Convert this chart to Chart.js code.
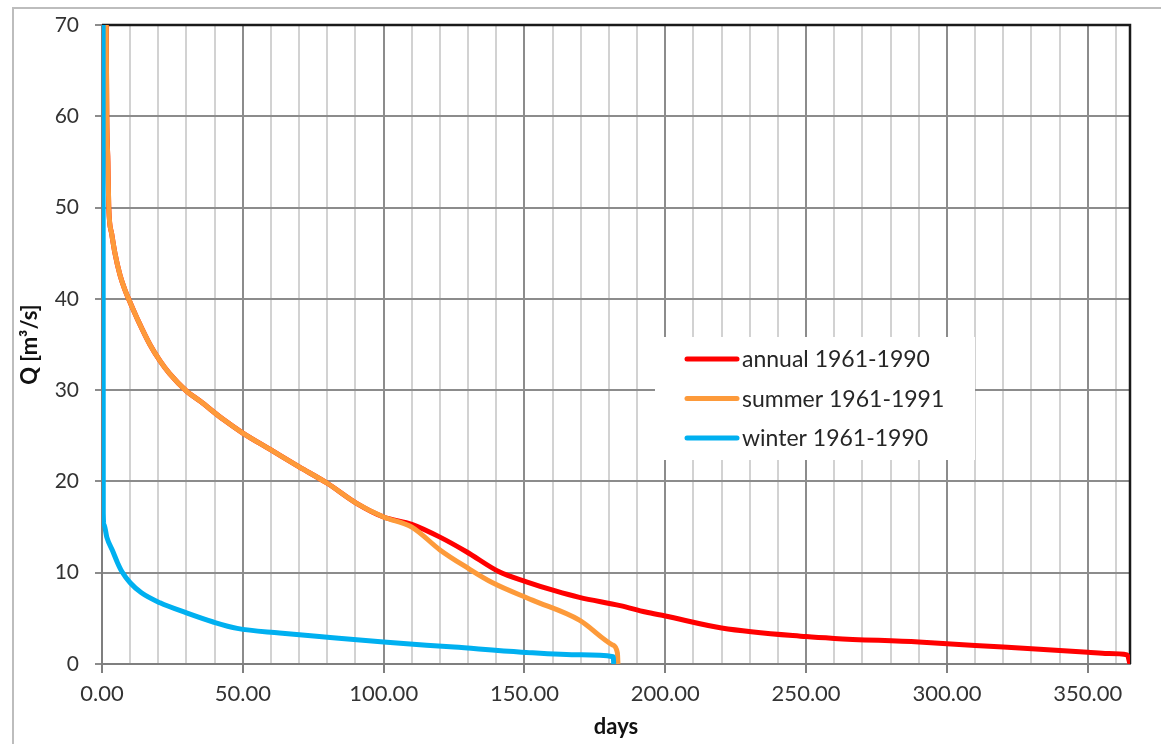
<!DOCTYPE html>
<html lang="en">
<head>
    <meta charset="UTF-8">
    <title>Flow duration curves</title>
    <script src="https://cdn.jsdelivr.net/npm/chart.js"></script>
    <style>
        html, body { margin: 0; padding: 0; background: #fff; }
    </style>
</head>
<body>
    <canvas id="durationChart" width="1161" height="744"></canvas>

    <script>
        // annual 1961-1990 (days exceeded, Q in m3/s)
        const annualDays = [1.5, 1.7, 2.1, 2.4, 3.4, 4.6, 6.4, 8, 10, 13, 17, 20.6, 24, 30, 34.8, 43, 50, 60, 70, 80, 90.4, 100,
                            110, 120, 129.4, 141, 150.7, 161, 169.5, 184, 193, 200, 220, 250, 260, 290, 320, 350, 357, 364, 365];
        const annualQ    = [70, 60, 55, 50, 47.2, 45, 42.6, 41.1, 39.6, 37.5, 35.0, 33.2, 31.8, 29.9, 28.8, 26.8, 25.3, 23.45, 21.6, 19.8, 17.6, 16.1,
                            15.3, 13.9, 12.3, 10.1, 9.0, 8.0, 7.3, 6.4, 5.7, 5.26, 3.95, 3.0, 2.8, 2.4, 1.85, 1.3, 1.15, 1.0, 0];

        // summer 1961-1991
        const summerDays = [1.5, 1.7, 2.1, 2.4, 3.4, 4.6, 6.4, 8, 10, 13, 17, 20.6, 24, 30, 34.8, 43, 50, 60, 70, 80, 90.4, 100,
                            110, 120, 129.4, 138.7, 152.8, 169.5, 181.2, 183, 183.2];
        const summerQ    = [70, 60, 55, 50, 47.2, 45, 42.6, 41.1, 39.6, 37.5, 35.0, 33.2, 31.8, 29.9, 28.8, 26.8, 25.3, 23.45, 21.6, 19.8, 17.6, 16.1,
                            15.0, 12.5, 10.6, 8.9, 7.0, 4.8, 2.1, 1.2, 0];

        // winter 1961-1990
        const winterDays = [0.4, 0.42, 0.45, 0.7, 1.7, 3.9, 5.5, 7.1, 10, 14, 20.6, 30, 39.5, 48, 63, 81, 100, 125, 149, 170, 181.5, 181.7];
        const winterQ    = [70, 40, 16.5, 15.3, 13.9, 12.3, 11.1, 10.1, 8.9, 7.8, 6.7, 5.6, 4.6, 3.9, 3.4, 2.9, 2.4, 1.85, 1.3, 1.0, 0.8, 0];

        const seriesLabels = ['annual 1961-1990', 'summer 1961-1991', 'winter 1961-1990'];
        const seriesColors = ['#ff0000', '#fd9a3a', '#00b0f0'];

        const xGridDays = [0, 10, 20, 30, 40, 50, 60, 70, 80, 90, 100, 110, 120, 130, 140, 150, 160, 170, 180,
                           190, 200, 210, 220, 230, 240, 250, 260, 270, 280, 290, 300, 310, 320, 330, 340, 350, 360];
        const xTickLabels = [0, 50, 100, 150, 200, 250, 300, 350];
        const yTickValues = [0, 10, 20, 30, 40, 50, 60, 70];

        const FONT = 'Lato, "Open Sans", sans-serif';

        const toPoints = (xs, ys) => xs.map((x, i) => ({ x: x, y: ys[i] }));

        // grey frame around the whole chart plus black top/right plot border
        const framePlugin = {
            id: 'frame',
            beforeDraw(chart) {
                const c = chart.ctx;
                c.save();
                c.fillStyle = '#ffffff';
                c.fillRect(0, 0, chart.width, chart.height);
                c.strokeStyle = '#bdbdbd';
                c.lineWidth = 2;
                c.strokeRect(13, 8, chart.width + 20, chart.height + 20);
                c.restore();
            },
            beforeDatasetsDraw(chart) {
                const a = chart.chartArea;
                const c = chart.ctx;
                c.save();
                c.strokeStyle = '#1a1a1a';
                c.lineWidth = 2.5;
                c.beginPath();
                c.moveTo(a.left, a.top);
                c.lineTo(a.right, a.top);
                c.lineTo(a.right, a.bottom);
                c.stroke();
                c.restore();
            }
        };

        // legend box inside the plot area
        const boxLegend = {
            id: 'boxLegend',
            afterDatasetsDraw(chart) {
                const c = chart.ctx;
                c.save();
                c.fillStyle = '#ffffff';
                c.fillRect(655, 337, 320, 123);
                c.font = '23px ' + FONT;
                c.textBaseline = 'middle';
                chart.data.datasets.forEach((ds, i) => {
                    const y = 359 + i * 39.5;
                    c.strokeStyle = ds.borderColor;
                    c.lineWidth = 5;
                    c.lineCap = 'round';
                    c.beginPath();
                    c.moveTo(687, y);
                    c.lineTo(737, y);
                    c.stroke();
                    c.fillStyle = '#262626';
                    c.fillText(ds.label, 742, y + 1);
                });
                c.restore();
            }
        };

        new Chart(document.getElementById('durationChart'), {
            type: 'line',
            data: {
                datasets: [
                    { label: seriesLabels[0], data: toPoints(annualDays, annualQ), borderColor: seriesColors[0], order: 2 },
                    { label: seriesLabels[1], data: toPoints(summerDays, summerQ), borderColor: seriesColors[1], order: 1 },
                    { label: seriesLabels[2], data: toPoints(winterDays, winterQ), borderColor: seriesColors[2], order: 0 }
                ]
            },
            options: {
                responsive: false,
                animation: false,
                datasets: {
                    line: { borderWidth: 5, pointRadius: 0, cubicInterpolationMode: 'monotone', fill: false }
                },
                layout: { padding: { left: 13, top: 25, right: 31, bottom: 0 } },
                plugins: {
                    legend: { display: false },
                    tooltip: { enabled: false }
                },
                scales: {
                    x: {
                        type: 'linear',
                        min: 0,
                        max: 365,
                        afterBuildTicks: axis => { axis.ticks = xGridDays.map(v => ({ value: v })); },
                        afterFit: axis => { axis.height = 80; },
                        grid: {
                            color: ctx => (ctx.tick && ctx.tick.value % 50 === 0) ? '#8c8c8c' : '#d2d2d2',
                            lineWidth: 2,
                            tickLength: 9,
                            tickWidth: 2,
                            tickColor: ctx => (ctx.tick && ctx.tick.value % 50 === 0) ? '#7f7f7f' : 'rgba(0,0,0,0)'
                        },
                        border: { color: '#7f7f7f', width: 2 },
                        ticks: {
                            autoSkip: false,
                            maxRotation: 0,
                            padding: 8,
                            color: '#333333',
                            font: { family: FONT, size: 22 },
                            callback: v => xTickLabels.includes(v) ? v.toFixed(2) : ''
                        },
                        title: {
                            display: true,
                            text: 'days',
                            color: '#111111',
                            font: { family: FONT, size: 22, weight: 'bold' },
                            padding: { top: 0, bottom: 4 }
                        }
                    },
                    y: {
                        min: 0,
                        max: 70,
                        afterBuildTicks: axis => { axis.ticks = yTickValues.map(v => ({ value: v })); },
                        afterFit: axis => {
                            axis.width = 89;
                            axis.paddingTop = 0;
                            axis.paddingBottom = 0;
                        },
                        grid: { color: '#8c8c8c', lineWidth: 2, tickLength: 7, tickWidth: 2, tickColor: '#8c8c8c' },
                        border: { color: '#7f7f7f', width: 2 },
                        ticks: {
                            padding: 16,
                            color: '#333333',
                            font: { family: FONT, size: 21 }
                        },
                        title: {
                            display: true,
                            text: 'Q [m³/s]',
                            color: '#111111',
                            font: { family: FONT, size: 22, weight: 'bold' },
                            padding: { top: 4, bottom: 0 }
                        }
                    }
                }
            },
            plugins: [framePlugin, boxLegend]
        });
    </script>
</body>
</html>
